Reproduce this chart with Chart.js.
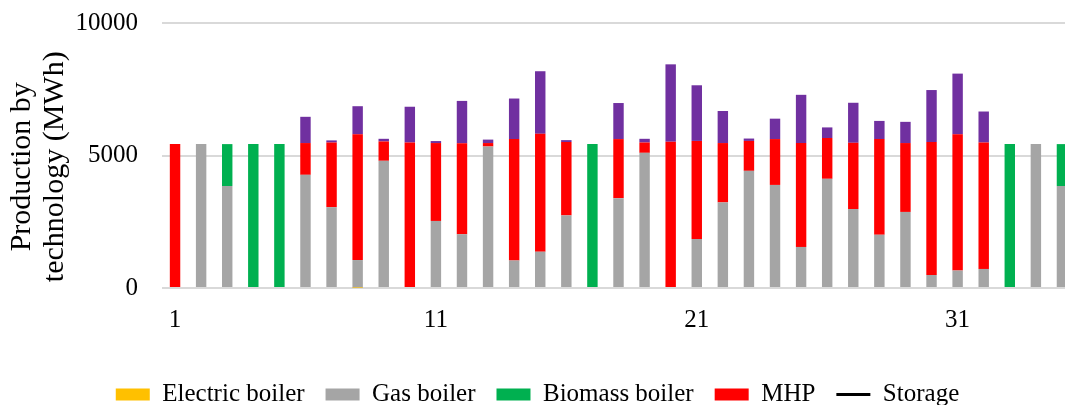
<!DOCTYPE html>
<html>
<head>
<meta charset="utf-8">
<script src="https://cdn.jsdelivr.net/npm/chart.js@4/dist/chart.umd.min.js"></script>
<style>
  html, body { margin: 0; padding: 0; background: #fff; overflow: hidden; }
  #wrap { position: relative; width: 1076px; height: 417px; }
</style>
</head>
<body>
<div id="wrap"><canvas id="chart"></canvas></div>
<script>
// Dias 1..35
const days = Array.from({ length: 35 }, (_, i) => String(i + 1))

// Produção por tecnologia (MWh)
const electricBoiler = [0,0,0,0,0,0,0,15,0,0,0,0,0,0,0,0,0,0,0,0,0,0,0,0,0,0,0,0,0,0,0,0,0,0,0]
const gasBoiler = [0,5430,3850,0,0,4270,3050,1040,4800,0,2530,2030,5340,1040,1370,2740,0,3390,5100,0,1850,3230,4420,3890,1550,4120,2980,2010,2870,490,660,720,0,5430,3850]
const biomassBoiler = [0,0,1580,5430,5430,0,0,0,0,0,0,0,0,0,0,0,5430,0,0,0,0,0,0,0,0,0,0,0,0,0,0,0,5430,0,1580]
const mhp = [5430,0,0,0,0,1200,2440,4745,730,5490,2940,3430,130,4580,4450,2770,0,2230,390,5520,3700,2240,1130,1730,3920,1540,2500,3610,2600,5020,5140,4770,0,0,0]
const heatPump = [0,0,0,0,0,990,80,1060,100,1350,75,1600,130,1530,2360,70,0,1360,140,2920,2100,1210,90,770,1820,400,1510,685,800,1960,2290,1170,0,0,0]
const storage = []

const yTicks = [0, 5000, 10000]

const serif = "'Liberation Serif', 'Times New Roman', serif"

const barSet = (label, data, color) => ({
  type: 'bar',
  label: label,
  data: data,
  backgroundColor: color,
  borderWidth: 0,
  pointStyle: 'rect',
  barPercentage: 0.4,
  categoryPercentage: 1,
  stack: 's'
})

new Chart(document.getElementById('chart'), {
  type: 'bar',
  data: {
    labels: days,
    datasets: [
      barSet('Electric boiler', electricBoiler, '#FFC000'),
      barSet('Gas boiler', gasBoiler, '#A5A5A5'),
      barSet('Biomass boiler', biomassBoiler, '#00B050'),
      barSet('MHP', mhp, '#FF0000'),
      barSet('Heat pump', heatPump, '#7030A0'),
      {
        type: 'line',
        label: 'Storage',
        data: storage,
        borderColor: '#000000',
        backgroundColor: '#000000',
        borderWidth: 3,
        pointStyle: 'line',
        pointRadius: 0
      }
    ]
  },
  options: {
    responsive: true,
    maintainAspectRatio: false,
    animation: false,
    layout: { padding: { top: 23, right: 1, left: 0, bottom: 0 } },
    plugins: {
      tooltip: { enabled: false },
      legend: {
        position: 'bottom',
        labels: {
          usePointStyle: true,
          pointStyleWidth: 34,
          boxHeight: 12,
          padding: 21,
          color: '#000',
          font: { family: serif, size: 25 },
          filter: (item) => item.text !== 'Heat pump'
        }
      }
    },
    scales: {
      x: {
        stacked: true,
        grid: { display: false },
        border: { display: false },
        ticks: {
          autoSkip: false,
          maxRotation: 0,
          padding: 9,
          color: '#000',
          font: { family: serif, size: 25 },
          callback: (v, i) => (i % 10 === 0 ? days[i] : '')
        },
        afterFit: (axis) => { axis.height = 73 }
      },
      y: {
        stacked: true,
        min: 0,
        max: 10000,
        afterBuildTicks: (axis) => { axis.ticks = yTicks.map(v => ({ value: v })) },
        // marcas invisíveis só para afastar os rótulos do eixo
        grid: { color: '#D9D9D9', lineWidth: 2, drawTicks: true, tickLength: 22, tickColor: 'rgba(0,0,0,0)' },
        border: { display: false },
        ticks: {
          padding: 2,
          color: '#000',
          font: { family: serif, size: 25 },
          callback: (v) => String(v)
        },
        title: {
          display: true,
          // espaços no fim empurram o título um pouco para baixo, como no original
          text: ['Production by   ', 'technology (MWh)   '],
          color: '#000',
          font: { family: serif, size: 30, lineHeight: 1.1 },
          padding: { top: 6, bottom: 0 }
        },
        afterFit: (axis) => { axis.width = 162 }
      }
    }
  }
})
</script>
</body>
</html>
